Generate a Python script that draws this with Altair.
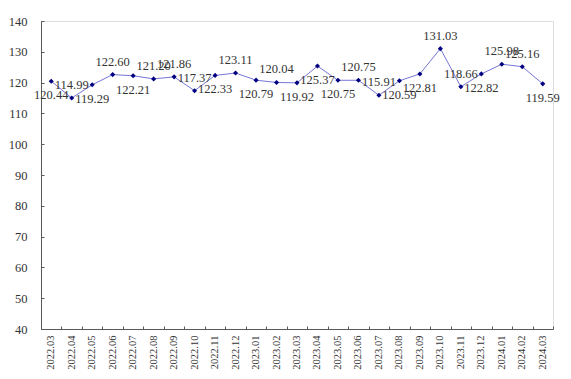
import altair as alt
import pandas as pd

months = ["2022.03", "2022.04", "2022.05", "2022.06", "2022.07", "2022.08", "2022.09",
          "2022.10", "2022.11", "2022.12", "2023.01", "2023.02", "2023.03", "2023.04",
          "2023.05", "2023.06", "2023.07", "2023.08", "2023.09", "2023.10", "2023.11",
          "2023.12", "2024.01", "2024.02", "2024.03"]
values = [120.44, 114.99, 119.29, 122.60, 122.21, 121.20, 121.86, 117.37, 122.33, 123.11,
          120.79, 120.04, 119.92, 125.37, 120.75, 120.75, 115.91, 120.59, 122.81, 131.03,
          118.66, 122.82, 125.98, 125.16, 119.59]
label_side = ["below", "above", "below", "above", "below", "above", "above", "above",
              "below", "above", "below", "above", "below", "below", "below", "above",
              "above", "below", "below", "above", "above", "below", "above", "above",
              "below"]
y_ticks = [40, 50, 60, 70, 80, 90, 100, 110, 120, 130, 140]

df = pd.DataFrame({"month": months, "value": values, "side": label_side})
df["label"] = df["value"].map(lambda v: f"{v:.2f}")

FONT = "Liberation Serif"
AXIS_COLOR = "#595959"
TEXT_COLOR = "#333333"

xscale = alt.Scale(type="band", paddingInner=0, paddingOuter=0)
yscale = alt.Scale(domain=[40, 140], nice=False, zero=False)

base = alt.Chart(df)

# main axes: domain + labels, no ticks
line = base.mark_line(color="#7676d6", strokeWidth=1).encode(
    x=alt.X("month:N", sort=months, scale=xscale,
            axis=alt.Axis(title=None, orient="bottom", labelAngle=270, ticks=False,
                          labelPadding=6, labelFont=FONT, labelFontSize=10.5,
                          labelColor=TEXT_COLOR, domainColor=AXIS_COLOR, grid=False)),
    y=alt.Y("value:Q", scale=yscale,
            axis=alt.Axis(title=None, orient="left", values=y_ticks, ticks=False,
                          labelPadding=14, labelFont=FONT, labelFontSize=12.5,
                          labelColor=TEXT_COLOR, domainColor=AXIS_COLOR, grid=False)),
)

# inward ticks: second axes, shifted inside the plot
pts = base.mark_point(shape="diamond", filled=True, color="#000080", size=26, opacity=1).encode(
    x=alt.X("month:N", sort=months, scale=xscale,
            axis=alt.Axis(title=None, orient="bottom", offset=-3, domain=False, labels=False,
                          ticks=True, tickBand="extent", tickSize=3, tickColor=AXIS_COLOR,
                          grid=False)),
    y=alt.Y("value:Q", scale=yscale,
            axis=alt.Axis(title=None, orient="left", offset=-3, domain=False, labels=False,
                          values=y_ticks, ticks=True, tickSize=3, tickColor=AXIS_COLOR,
                          grid=False)),
)

text_common = dict(font=FONT, fontSize=12.5, color=TEXT_COLOR)
above = base.transform_filter(alt.datum.side == "above").mark_text(dy=-13, **text_common).encode(
    x=alt.X("month:N", sort=months, scale=xscale, axis=None),
    y=alt.Y("value:Q", scale=yscale, axis=None),
    text="label:N",
)
below = base.transform_filter(alt.datum.side == "below").mark_text(dy=14, **text_common).encode(
    x=alt.X("month:N", sort=months, scale=xscale, axis=None),
    y=alt.Y("value:Q", scale=yscale, axis=None),
    text="label:N",
)

chart = alt.layer(line, pts, above, below).resolve_axis(
    x="independent", y="independent"
).properties(
    width=512, height=308,
    autosize=alt.AutoSizeParams(type="none"),
    padding={"left": 33, "top": 13, "right": 10, "bottom": 42},
).configure_view(stroke=None).configure(background="white")

chart.save("out.html", embed_options={"renderer": "svg", "actions": False})
